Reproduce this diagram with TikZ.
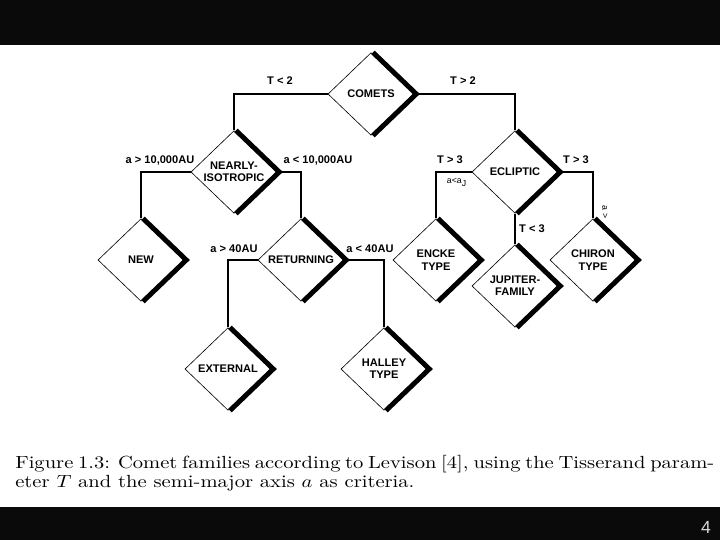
\documentclass[tikz,border=0pt]{standalone}
\usepackage{fontspec}
\usepackage{graphicx}
\usepackage{tikz}
\usetikzlibrary{shapes.geometric}
\newfontfamily\helv{Liberation Sans}
\definecolor{slidebar}{HTML}{0A0A0A}
\definecolor{pagegray}{HTML}{D8D8D8}
\tikzset{
  family/.style={draw, diamond, line width=0.35pt, inner sep=0pt, minimum width=49pt, minimum height=47pt, align=center, font=\helv\bfseries\fontsize{6.3}{7}\selectfont},
  rim/.style={line width=2.8pt, line join=miter},
  branch/.style={line width=1.3pt},
  crit/.style={font=\helv\bfseries\fontsize{6.3}{7}\selectfont},
  subcrit/.style={font=\helv\fontsize{5}{6}\selectfont, inner sep=0.5pt},
  capline/.style={anchor=base west, inner sep=0pt, font=\fontsize{10}{10.8}\selectfont}
}

\begin{document}
\begin{tikzpicture}[x=0.02cm,y=-0.02cm]
  \useasboundingbox (0,0) rectangle (720,540);
  % Slide bars
  \fill[slidebar] (0,0) rectangle (720,45);
  \fill[slidebar] (0,507) rectangle (720,540);
  \node[font=\helv\fontsize{10}{12}\selectfont, text=pagegray] (pageno) at (706,527) {4};

  % Families
  \node[family] (comets) at (371,94) {COMETS};
  \node[family] (nearly) at (234,172) {NEARLY-\\ISOTROPIC};
  \node[family] (ecliptic) at (515,172) {ECLIPTIC};
  \node[family] (new) at (141,260) {NEW};
  \node[family] (returning) at (301,260) {RETURNING};
  \node[family] (encke) at (436,260) {ENCKE\\TYPE};
  \node[family] (jupiter) at (515,286) {JUPITER-\\FAMILY};
  \node[family] (chiron) at (593,260) {CHIRON\\TYPE};
  \node[family] (external) at (228,369) {EXTERNAL};
  \node[family] (halley) at (384,369) {HALLEY\\TYPE};
  \foreach \n in {comets,nearly,ecliptic,new,returning,encke,jupiter,chiron,external,halley}
    \draw[rim] ([xshift=1.1pt]\n.north) -- ([xshift=1.1pt]\n.east) -- ([xshift=1.1pt]\n.south);

  % Branches
  \draw[branch] (comets.west) -| (nearly.north);
  \draw[branch] (comets.east) -| (ecliptic.north);
  \draw[branch] (nearly.west) -| (new.north);
  \draw[branch] (nearly.east) -| (returning.north);
  \draw[branch] (returning.west) -| (external.north);
  \draw[branch] (returning.east) -| (halley.north);
  \draw[branch] (ecliptic.west) -| (encke.north);
  \draw[branch] (ecliptic.east) -| (chiron.north);
  \draw[branch] (ecliptic.south) -- (jupiter.north);

  % Criteria
  \node[crit] (tlow) at (280,81) {T < 2};
  \node[crit] (thigh) at (463,81) {T > 2};
  \node[crit] (afar) at (160,160) {a > 10,000AU};
  \node[crit] (anear) at (318,160) {a < 10,000AU};
  \node[crit] (aout) at (234,249) {a > 40AU};
  \node[crit] (ain) at (370,249) {a < 40AU};
  \node[crit] (tencke) at (450,160) {T > 3};
  \node[crit] (tchiron) at (576,160) {T > 3};
  \node[crit] (tjup) at (532,229) {T < 3};
  \node[subcrit] (ainner) at (457,182) {a<a\textsubscript{J}};
  \node[subcrit, rotate=-90] (aouter) at (605,212) {a >};

  % Caption
  \node[capline] (cap1) at (15,468) {\scalebox{1.17}[1]{\makebox[340pt][s]{Figure 1.3: Comet families according to Levison [4], using the Tisserand param-}}};
  \node[capline] (cap2) at (15,487) {\scalebox{1.17}[1]{eter $T$ and the semi-major axis $a$ as criteria.}};
\end{tikzpicture}
\end{document}
